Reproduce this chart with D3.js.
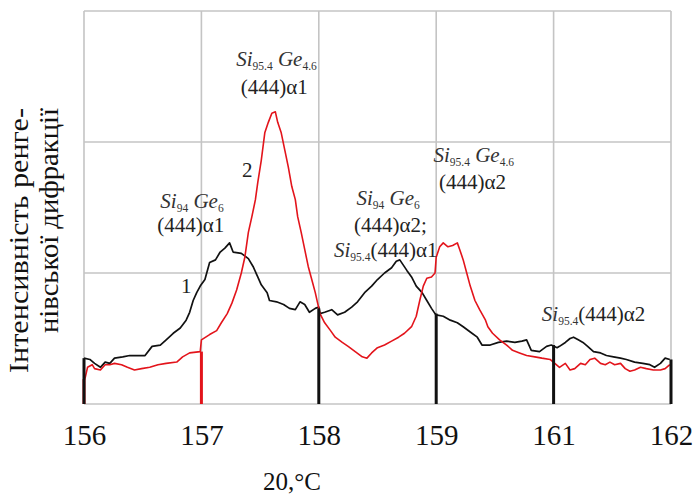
<!DOCTYPE html>
<html><head><meta charset="utf-8">
<script src="https://cdn.jsdelivr.net/npm/d3@7"></script>
<style>body{margin:0;background:#fff}svg{display:block}</style></head>
<body><svg id="c" width="695" height="496"></svg>
<script>
// ---- data ----
const xTicks = [156, 157, 158, 159, 160, 161];
const xTickLabels = ["156", "157", "158", "159", "161", "162"];
const yTicks = [0, 1, 2, 3];
const xTitle = "20,°C";
const yTitle = ["Інтенсивність ренге-", "нівської дифракції"];

// curve 1 (black) : [2θ position, intensity]
const curve1 = [
[156.00,0.35],[156.05,0.34],[156.09,0.31],[156.14,0.28],[156.18,0.32],[156.22,0.31],[156.26,0.35],
[156.33,0.36],[156.39,0.37],[156.52,0.37],[156.58,0.44],[156.65,0.45],[156.70,0.49],[156.76,0.54],
[156.82,0.58],[156.87,0.64],[156.90,0.70],[156.93,0.79],[156.96,0.85],[156.99,0.90],[157.03,0.95],
[157.07,1.08],[157.12,1.10],[157.16,1.16],[157.20,1.19],[157.24,1.23],[157.27,1.16],[157.34,1.15],
[157.40,1.11],[157.44,1.05],[157.48,0.97],[157.51,0.91],[157.56,0.85],[157.58,0.79],[157.64,0.78],
[157.70,0.76],[157.75,0.73],[157.80,0.72],[157.84,0.78],[157.88,0.76],[157.92,0.70],[157.97,0.73],
[158.00,0.74],[158.01,0.69],[158.05,0.70],[158.11,0.72],[158.16,0.68],[158.22,0.70],[158.28,0.74],
[158.33,0.78],[158.39,0.85],[158.45,0.90],[158.50,0.95],[158.56,1.00],[158.62,1.04],[158.66,1.09],
[158.69,1.10],[158.72,1.06],[158.75,1.02],[158.79,0.97],[158.83,0.90],[158.88,0.85],[158.92,0.79],
[158.96,0.73],[158.99,0.69],[159.00,0.68],[159.06,0.67],[159.12,0.64],[159.18,0.62],[159.23,0.59],
[159.29,0.55],[159.35,0.51],[159.39,0.45],[159.46,0.45],[159.53,0.47],[159.60,0.48],[159.67,0.47],
[159.73,0.48],[159.77,0.49],[159.81,0.41],[159.88,0.40],[159.94,0.44],[159.98,0.45],[160.03,0.43],
[160.05,0.44],[160.10,0.47],[160.14,0.50],[160.17,0.51],[160.21,0.49],[160.25,0.47],[160.29,0.44],
[160.34,0.40],[160.40,0.39],[160.45,0.37],[160.51,0.36],[160.57,0.35],[160.62,0.34],[160.69,0.32],
[160.76,0.31],[160.82,0.30],[160.86,0.28],[160.91,0.31],[160.95,0.35],[160.99,0.34]
];
// curve 2 (red)
const curve2 = [
[156.00,0.18],[156.01,0.20],[156.03,0.28],[156.07,0.30],[156.09,0.27],[156.14,0.26],[156.18,0.30],
[156.22,0.30],[156.26,0.31],[156.32,0.30],[156.37,0.28],[156.43,0.26],[156.49,0.27],[156.56,0.28],
[156.63,0.30],[156.70,0.31],[156.79,0.32],[156.84,0.36],[156.90,0.39],[156.99,0.40],[157.00,0.49],
[157.07,0.53],[157.13,0.56],[157.17,0.62],[157.22,0.69],[157.26,0.77],[157.30,0.87],[157.34,1.00],
[157.37,1.12],[157.40,1.31],[157.43,1.43],[157.46,1.56],[157.48,1.69],[157.51,1.86],[157.54,2.07],
[157.57,2.15],[157.60,2.22],[157.63,2.23],[157.65,2.15],[157.68,2.07],[157.71,1.94],[157.74,1.81],
[157.77,1.66],[157.80,1.56],[157.82,1.43],[157.85,1.31],[157.88,1.18],[157.91,1.05],[157.94,0.95],
[157.97,0.85],[157.99,0.77],[158.01,0.69],[158.05,0.62],[158.10,0.56],[158.14,0.51],[158.20,0.47],
[158.25,0.44],[158.31,0.40],[158.37,0.36],[158.41,0.35],[158.45,0.39],[158.50,0.43],[158.56,0.45],
[158.62,0.48],[158.68,0.51],[158.73,0.54],[158.79,0.59],[158.83,0.67],[158.86,0.79],[158.89,0.90],
[158.92,0.96],[158.96,0.97],[158.99,1.00],[159.00,1.12],[159.03,1.20],[159.06,1.23],[159.10,1.20],
[159.14,1.21],[159.18,1.23],[159.20,1.18],[159.23,1.10],[159.26,1.00],[159.29,0.90],[159.33,0.79],
[159.37,0.72],[159.42,0.64],[159.44,0.59],[159.48,0.54],[159.54,0.49],[159.60,0.45],[159.65,0.41],
[159.71,0.39],[159.77,0.37],[159.84,0.36],[159.90,0.35],[159.97,0.34],[160.01,0.31],[160.05,0.28],
[160.10,0.31],[160.14,0.26],[160.18,0.27],[160.23,0.31],[160.27,0.30],[160.31,0.34],[160.35,0.35],
[160.40,0.31],[160.44,0.30],[160.48,0.32],[160.52,0.30],[160.57,0.31],[160.61,0.27],[160.65,0.25],
[160.69,0.26],[160.74,0.28],[160.79,0.27],[160.85,0.26],[160.91,0.26],[160.95,0.27],[160.99,0.30]
];
// vertical drop artefacts at grid positions: [position, top intensity]
const spikes1 = [[156,0.35],[158,0.73],[159,0.69],[160,0.45],[161,0.34]];
const spikes2 = [[156,0.19],[157,0.40]];

// annotations: anchor in data units, text parts (i = italic, s = subscript)
const annotations = [
  {x:157.64, y:2.58, parts:[["Si","i"],["95.4","s"],[" ",""],["Ge","i"],["4.6","s"]]},
  {x:157.62, y:2.37, parts:[["(444)α1",""]]},
  {x:157.39, y:1.73, parts:[["2",""]]},
  {x:156.92, y:1.50, parts:[["Si","i"],["94","s"],[" ",""],["Ge","i"],["6","s"]]},
  {x:156.91, y:1.31, parts:[["(444)α1",""]]},
  {x:156.87, y:0.85, parts:[["1",""]]},
  {x:159.32, y:1.85, parts:[["Si","i"],["95.4","s"],[" ",""],["Ge","i"],["4.6","s"]]},
  {x:159.31, y:1.64, parts:[["(444)α2",""]]},
  {x:158.59, y:1.52, parts:[["Si","i"],["94","s"],[" ",""],["Ge","i"],["6","s"]]},
  {x:158.61, y:1.31, parts:[["(444)α2;",""]]},
  {x:158.57, y:1.12, parts:[["Si","i"],["95.4","s"],["(444)α1",""]]},
  {x:160.34, y:0.63, parts:[["Si","i"],["95.4","s"],["(444)α2",""]]}
];

// ---- drawing ----
const svg = d3.select("#c");
const W = 695, H = 496;
const m = {left:84, right:24, top:11, bottom:92};
const x = d3.scaleLinear().domain([156,161]).range([m.left, W - m.right]);
const y = d3.scaleLinear().domain([0,3]).range([H - m.bottom, m.top]);
const font = "'Liberation Serif','Times New Roman',serif";

// grid
const g = svg.append("g");
g.selectAll("line.v").data(xTicks).join("line")
  .attr("x1", d=>x(d)).attr("x2", d=>x(d)).attr("y1", y(0)).attr("y2", y(3))
  .attr("stroke", "#c4c4c4").attr("stroke-width", 1.6);
g.selectAll("line.h").data(yTicks).join("line")
  .attr("x1", x(156)).attr("x2", x(161)).attr("y1", d=>y(d)).attr("y2", d=>y(d))
  .attr("stroke", "#c4c4c4").attr("stroke-width", 1.6);

// x axis labels
const xAxis = d3.axisBottom(x).tickValues(xTicks)
  .tickFormat((d,i)=>xTickLabels[i]).tickSize(0).tickPadding(20);
const ax = svg.append("g").attr("transform", `translate(0,${y(0)})`).call(xAxis);
ax.select(".domain").remove();
ax.selectAll("text").attr("font-family", font).attr("font-size", 29).attr("fill", "#111");

// titles
svg.append("text").attr("x", 292).attr("y", 490).attr("text-anchor","middle")
  .attr("font-family", font).attr("font-size", 25).attr("fill","#111").text(xTitle);
const yTitleX = [28, 58], yTitleLen = [265, 225];
yTitle.forEach((t,i)=>{
  svg.append("text").attr("transform", `translate(${yTitleX[i]},108) rotate(-90)`)
    .attr("text-anchor","end").attr("font-family", font).attr("font-size", 27)
    .attr("textLength", yTitleLen[i]).attr("lengthAdjust","spacingAndGlyphs")
    .attr("fill","#111").text(t);
});

const line = d3.line().x(d=>x(d[0])).y(d=>y(d[1]));
svg.append("path").datum(curve1).attr("d", line).attr("fill","none")
  .attr("stroke","#111").attr("stroke-width",1.7).attr("stroke-linejoin","round");
svg.append("path").datum(curve2).attr("d", line).attr("fill","none")
  .attr("stroke","#e3141b").attr("stroke-width",1.6).attr("stroke-linejoin","round");

svg.selectAll("line.s2").data(spikes2).join("line")
  .attr("x1", d=>x(d[0])).attr("x2", d=>x(d[0])).attr("y1", d=>y(d[1])).attr("y2", y(0))
  .attr("stroke","#e3141b").attr("stroke-width",3);
svg.selectAll("line.s1").data(spikes1).join("line")
  .attr("x1", d=>x(d[0])).attr("x2", d=>x(d[0])).attr("y1", d=>y(d[1])).attr("y2", y(0))
  .attr("stroke","#111").attr("stroke-width",3);

// annotations
annotations.forEach(a=>{
  const t = svg.append("text").attr("x", x(a.x)).attr("y", y(a.y))
    .attr("text-anchor","middle").attr("font-family", font).attr("font-size", 21).attr("fill","#222");
  let shifted = false;
  a.parts.forEach(([s,k])=>{
    const ts = t.append("tspan").text(s);
    if (k === "i") ts.attr("font-style","italic").attr("fill","#333");
    if (k === "s") { ts.attr("font-size", 11.5).attr("dy", 4).attr("fill","#333"); shifted = true; }
    else if (shifted) { ts.attr("dy", -4); shifted = false; }
  });
});
</script></body></html>
